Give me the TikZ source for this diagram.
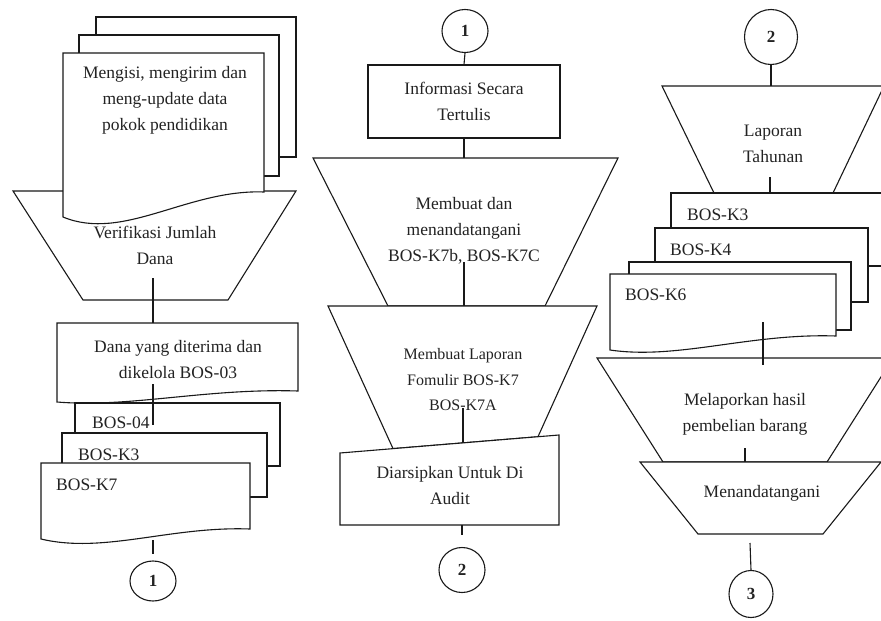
\documentclass[tikz,border=0pt]{standalone}
\usepackage{fontspec}
\setmainfont{Liberation Serif}
\usetikzlibrary{shapes.geometric}
\definecolor{txtc}{RGB}{35,35,35}
\definecolor{linec}{RGB}{25,25,25}
\tikzset{
  shp/.style={draw=linec, fill=white, line width=1.1pt, line join=miter},
  conn/.style={draw=linec, line width=1.1pt},
  txt/.style={inner sep=0pt, align=center, text=txtc, font=\fontsize{17.5}{26}\selectfont},
  txts/.style={inner sep=0pt, align=center, text=txtc, font=\fontsize{16}{25.5}\selectfont},
  lbl/.style={inner sep=0pt, anchor=west, text=txtc, font=\fontsize{17.5}{21}\selectfont},
  conc/.style={draw=linec, line width=1.1pt, ellipse, inner sep=0pt, fill=white, text=txtc, font=\bfseries\fontsize{17}{19}\selectfont},
}
% document shape: xL xR yTop yBottomLeft yBottomRight dip
\newcommand\docshape[6]{%
  \pgfmathsetmacro\dw{#2-#1}%
  \pgfmathsetmacro\cax{#1+0.3*\dw}%
  \pgfmathsetmacro\cay{#4+#6}%
  \pgfmathsetmacro\cbx{#1+0.62*\dw}%
  \pgfmathsetmacro\cby{#5-3}%
  \path[shp] (#1,#3) -- (#2,#3) -- (#2,#5) .. controls (\cbx,\cby) and (\cax,\cay) .. (#1,#4) -- cycle;
}
\begin{document}
\begin{tikzpicture}[x=1pt,y=-1pt]
\path[use as bounding box, fill=white] (0,0) rectangle (881,621);
\begin{scope}
\clip (0,0) rectangle (881,621);
% ---------------- left column ----------------
\path[shp] (13,191) -- (296,191) -- (228,300) -- (83,300) -- cycle;
\node[txt] (verif) at (155,245) {Verifikasi Jumlah\\Dana};
\path[shp] (96,17) rectangle (296,157);
\path[shp] (79,35) rectangle (279,176);
\docshape{63}{264}{53}{217}{192}{25}
\node[txt] (isi) at (165,100) {Mengisi, mengirim dan\\meng-update data\\pokok pendidikan};
\docshape{57}{298}{323}{402}{391}{6}
\node[txt] (dana) at (178,360) {Dana yang diterima dan\\dikelola BOS-03};
\path[shp] (75,403) rectangle (280,466);
\node[lbl] (b04) at (92,423) {BOS-04};
\path[shp] (62,433) rectangle (267,497);
\node[lbl] (bk3) at (78,455) {BOS-K3};
\docshape{41}{250}{463}{539}{529}{15}
\node[lbl] (bk7) at (56,485) {BOS-K7};
\node[conc, minimum width=46pt, minimum height=40pt] (c1a) at (153,581) {1};
\coordinate (l1a) at (153,278); \coordinate (l1b) at (153,323);
\coordinate (l2a) at (153,384); \coordinate (l2b) at (153,425);
\coordinate (l3a) at (153,540); \coordinate (l3b) at (153,554);
\draw[conn] (l1a) -- (l1b);
\draw[conn] (l2a) -- (l2b);
\draw[conn] (l3a) -- (l3b);
% ---------------- middle column ----------------
\node[conc, minimum width=46pt, minimum height=43pt] (c1b) at (465,31) {1};
\node[shp, txt, minimum width=192pt, minimum height=73pt] (info) at (464,101.5) {Informasi Secara\\Tertulis};
\path[shp] (313,158) -- (618,158) -- (545,306) -- (388,306) -- cycle;
\node[txt] (mbt) at (464,231) {Membuat dan\\menandatangani\\BOS-K7b, BOS-K7C};
\path[shp] (328,306) -- (597,306) -- (538,436.7) -- (393,448.6) -- cycle;
\node[txts] (lap) at (463,380) {Membuat Laporan\\Fomulir BOS-K7\\BOS-K7A};
\path[shp] (340,453) -- (559,435) -- (559,525) -- (340,525) -- cycle;
\node[txt] (arsip) at (450,486) {Diarsipkan Untuk Di\\Audit};
\node[conc, minimum width=46pt, minimum height=45pt] (c2a) at (462,570) {2};
\coordinate (m1) at (464,158);
\coordinate (m2a) at (464,262); \coordinate (m2b) at (464,306);
\coordinate (m3a) at (463,408); \coordinate (m3b) at (463,443);
\coordinate (m4a) at (462,525); \coordinate (m4b) at (462,535);
\draw[conn] (c1b.south) -- (info.north);
\draw[conn] (info.south) -- (m1);
\draw[conn] (m2a) -- (m2b);
\draw[conn] (m3a) -- (m3b);
\draw[conn] (m4a) -- (m4b);
% ---------------- right column ----------------
\node[conc, minimum width=53pt, minimum height=55pt] (c2b) at (771,37) {2};
\path[shp] (662,86) -- (884,86) -- (833,193) -- (714,193) -- cycle;
\node[txt] (lt) at (773,144) {Laporan\\Tahunan};
\path[shp] (671,193) rectangle (900,266);
\node[lbl] (rk3) at (687,215) {BOS-K3};
\path[shp] (655,228) rectangle (868,302);
\node[lbl] (rk4) at (670,250) {BOS-K4};
\path[shp] (629,262) rectangle (851,330);
\docshape{610}{836}{274}{350}{336}{10}
\node[lbl] (rk6) at (625,295) {BOS-K6};
\path[shp] (597,358) -- (893,358) -- (827,462) -- (663,462) -- cycle;
\node[txt] (mel) at (745,414) {Melaporkan hasil\\pembelian barang};
\path[shp] (640,462) -- (881,462) -- (823,534) -- (698,534) -- cycle;
\node[txt] (mnd) at (762,493) {Menandatangani};
\node[conc, minimum width=44pt, minimum height=47pt] (c3) at (751,594) {3};
\coordinate (r1) at (771,86);
\coordinate (r2a) at (770,177); \coordinate (r2b) at (770,193);
\coordinate (r3a) at (763,322); \coordinate (r3b) at (763,365);
\coordinate (r4a) at (745,448); \coordinate (r4b) at (745,462);
\coordinate (r5a) at (750,543);
\draw[conn] (c2b.south) -- (r1);
\draw[conn] (r2a) -- (r2b);
\draw[conn] (r3a) -- (r3b);
\draw[conn] (r4a) -- (r4b);
\draw[conn] (r5a) -- (c3.north);
\end{scope}
\end{tikzpicture}
\end{document}
